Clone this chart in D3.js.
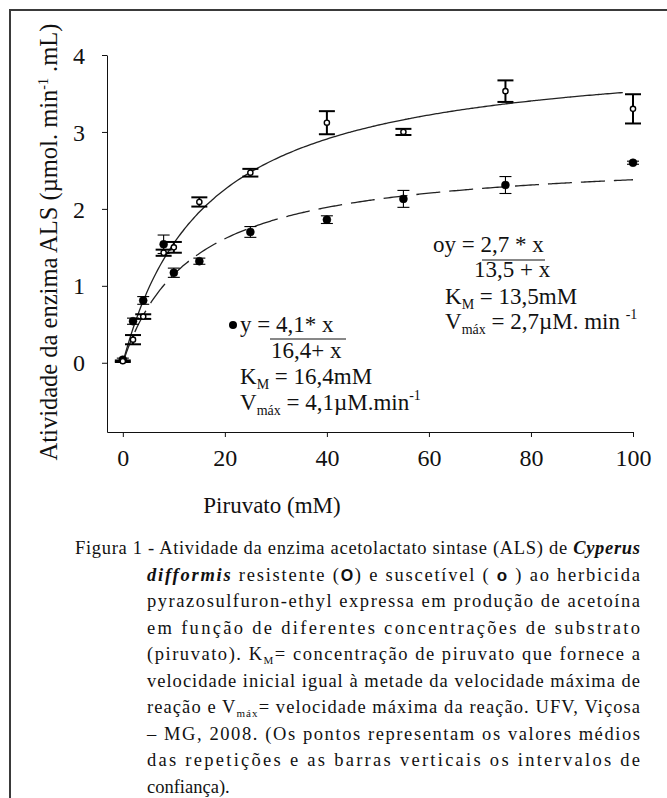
<!DOCTYPE html>
<html>
<head>
<meta charset="utf-8">
<script src="https://cdn.jsdelivr.net/npm/d3@7"></script>
<style>
  body { margin: 0; background: #fff; }
  svg text { font-family: "Liberation Serif", "Times New Roman", serif; fill: #111; }
</style>
</head>
<body>
<div id="chart"></div>
<script>
// substrate concentrations (mM)
const piruvato = [0, 2, 4, 8, 10, 15, 25, 40, 55, 75, 100];
// filled points (dashed curve)
const filledMean = [0.04, 0.54, 0.81, 1.54, 1.17, 1.32, 1.70, 1.86, 2.13, 2.31, 2.60];
const filledErr = [0.02, 0.04, 0.05, 0.12, 0.06, 0.04, 0.07, 0.05, 0.11, 0.11, 0.02];
// open points (solid curve)
const openMean = [0.02, 0.30, 0.60, 1.43, 1.50, 2.09, 2.47, 3.12, 3.00, 3.53, 3.30];
const openErr = [0.01, 0.06, 0.03, 0.04, 0.07, 0.06, 0.05, 0.15, 0.04, 0.14, 0.19];
// Michaelis-Menten fits printed on the chart [Vmax, Km]
const solidFit = [4.1, 16.4];
const dashedFit = [2.7, 13.5];
const xTicks = [0, 20, 40, 60, 80, 100];
const yTicks = [0, 1, 2, 3, 4];

const width = 667, height = 798;
const svg = d3.select("#chart").append("svg")
  .attr("width", width).attr("height", height);

// outer frame (only top and left edges visible)
svg.append("path")
  .attr("d", `M10,${height} V10 H${width}`)
  .attr("fill", "none").attr("stroke", "#3a3a3a").attr("stroke-width", 2);

const x = d3.scaleLinear().domain([-3.1, 100]).range([107, 633]);
const y = d3.scaleLinear().domain([-0.9, 4]).range([432, 55]);

const xAxis = svg.append("g")
  .attr("transform", "translate(0,432)")
  .call(d3.axisBottom(x).tickValues(xTicks).tickFormat(d3.format("d"))
    .tickSize(5).tickSizeOuter(0).tickPadding(12));
const yAxis = svg.append("g")
  .attr("transform", "translate(107,0)")
  .call(d3.axisLeft(y).tickValues(yTicks).tickFormat(d3.format("d"))
    .tickSize(5).tickSizeOuter(0).tickPadding(17));
[xAxis, yAxis].forEach(g => {
  g.attr("font-family", null).attr("font-size", null);
  g.selectAll("text").style("font-family", "Liberation Serif").style("font-size", "24px").attr("fill", "#111");
  g.selectAll("path, line").attr("stroke", "#111");
});
yAxis.selectAll("text").attr("dy", "0.34em");

// axis titles
svg.append("text")
  .attr("x", 272).attr("y", 513)
  .attr("text-anchor", "middle")
  .style("font-size", "23px")
  .text("Piruvato (mM)");

const yTitle = svg.append("text")
  .attr("transform", "translate(57,242) rotate(-90)")
  .attr("text-anchor", "middle")
  .style("font-size", "24.5px");
yTitle.append("tspan").text("Atividade da enzima ALS (µmol. min");
yTitle.append("tspan").attr("dy", -9).style("font-size", "14px").text("-1");
yTitle.append("tspan").attr("dy", 9).text(" .mL)");

// fitted curves
const mm = (fit, v) => fit[0] * v / (fit[1] + v);
const line = d3.line().x(d => x(d[0])).y(d => y(d[1])).curve(d3.curveBasis);

svg.append("path")
  .datum(d3.range(0, 98.01, 0.5).map(v => [v, mm(solidFit, v)]))
  .attr("d", line).attr("fill", "none").attr("stroke", "#222").attr("stroke-width", 1.3);
svg.append("path")
  .datum(d3.range(0, 100.01, 0.5).map(v => [v, mm(dashedFit, v)]))
  .attr("d", line).attr("fill", "none").attr("stroke", "#222").attr("stroke-width", 1.3)
  .attr("stroke-dasharray", "24,9");

// error bars + points
function drawSeries(means, errs, opts) {
  const data = piruvato.map((p, i) => ({ p, m: means[i], e: errs[i] }));
  const g = svg.append("g");
  const bars = g.selectAll(".bar").data(data).join("g")
    .attr("stroke", "#000").attr("stroke-width", opts.barWidth);
  bars.append("line")
    .attr("x1", d => x(d.p)).attr("x2", d => x(d.p))
    .attr("y1", d => y(d.m - d.e)).attr("y2", d => y(d.m + d.e));
  [-1, 1].forEach(s => {
    bars.append("line")
      .attr("x1", d => x(d.p) - opts.cap).attr("x2", d => x(d.p) + opts.cap)
      .attr("y1", d => y(d.m + s * d.e)).attr("y2", d => y(d.m + s * d.e));
  });
  g.selectAll("circle").data(data).join("circle")
    .attr("cx", d => x(d.p)).attr("cy", d => y(d.m))
    .attr("r", opts.r)
    .attr("fill", opts.fill).attr("stroke", "#000").attr("stroke-width", opts.stroke);
}
drawSeries(filledMean, filledErr, { r: 4, fill: "#000", stroke: 0.5, cap: 6, barWidth: 1.1 });
drawSeries(openMean, openErr, { r: 2.6, fill: "#fff", stroke: 1.4, cap: 8, barWidth: 2 });

// equation annotations
function eqBlock(x0, opts) {
  const g = svg.append("g").style("font-size", "23px");
  g.append("text").attr("x", x0).attr("y", opts.y[0]).text(opts.lead);
  g.append("line")
    .attr("x1", opts.bar[0]).attr("x2", opts.bar[1])
    .attr("y1", opts.barY).attr("y2", opts.barY)
    .attr("stroke", "#111").attr("stroke-width", 1);
  g.append("text").attr("x", opts.denX).attr("y", opts.y[1]).text(opts.den);
  const l3 = g.append("text").attr("x", x0 + opts.indent).attr("y", opts.y[2]);
  l3.append("tspan").text("K");
  l3.append("tspan").attr("dy", 5).style("font-size", "14px").text("M");
  l3.append("tspan").attr("dy", -5).text(opts.km);
  const l4 = g.append("text").attr("x", x0 + opts.indent).attr("y", opts.y[3]);
  l4.append("tspan").text("V");
  l4.append("tspan").attr("dy", 5).style("font-size", "14px").text("máx");
  l4.append("tspan").attr("dy", -5).text(opts.vm);
  l4.append("tspan").attr("dy", -10).style("font-size", "14px").text("-1");
  return g;
}
const eq1 = eqBlock(240, {
  y: [332, 358, 384, 410], lead: "y = 4,1* x", bar: [270, 346], barY: 339,
  denX: 271, den: "16,4+ x", indent: 0, km: " = 16,4mM", vm: " = 4,1µM.min"
});
eq1.append("circle").attr("cx", 233).attr("cy", 325).attr("r", 4).attr("fill", "#000");
eqBlock(433, {
  y: [252, 277, 304, 329], lead: "oy = 2,7 * x", bar: [482, 545], barY: 260,
  denX: 474, den: "13,5 + x", indent: 12, km: " = 13,5mM", vm: " = 2,7µM. min "
});

// caption
const capRight = 640;
const captionLines = [
  { x: 75, parts: [["Figura 1 - Atividade da enzima acetolactato sintase (ALS) de "], ["Cyperus", "bi"]] },
  { x: 147, parts: [["difformis", "bi"], [" resistente ("], ["O", "sym"], [") e suscetível ( "], ["o", "sym"], [" ) ao herbicida"]] },
  { x: 147, parts: [["pyrazosulfuron-ethyl expressa em produção de acetoína"]] },
  { x: 147, parts: [["em função de diferentes concentrações de substrato"]] },
  { x: 147, parts: [["(piruvato). K"], ["M", "sub"], ["= concentração de piruvato que fornece a"]] },
  { x: 147, parts: [["velocidade inicial igual à metade da velocidade máxima de"]] },
  { x: 147, parts: [["reação e V"], ["máx", "sub"], ["= velocidade máxima da reação. UFV, Viçosa"]] },
  { x: 147, parts: [["– MG, 2008. (Os pontos representam os valores médios"]] },
  { x: 147, parts: [["das repetições e as barras verticais os intervalos de"]] },
  { x: 147, parts: [["confiança)."]], last: true }
];
const cap = svg.append("g").style("font-size", "18.5px");
captionLines.forEach((ln, i) => {
  const t = cap.append("text").attr("x", ln.x).attr("y", 554 + i * 26.5);
  if (!ln.last) t.attr("textLength", capRight - ln.x).attr("lengthAdjust", "spacing");
  let shift = 0;
  ln.parts.forEach(([s, kind]) => {
    const ts = t.append("tspan").text(s);
    if (kind === "bi") ts.style("font-weight", "bold").style("font-style", "italic");
    if (kind === "sym") ts.style("font-family", "Liberation Sans").style("font-weight", "bold")
      .style("font-size", s === "O" ? "16px" : "17px");
    if (kind === "sub") { ts.attr("dy", 4).style("font-size", "11px"); shift = 4; }
    else if (shift) { ts.attr("dy", -shift); shift = 0; }
  });
});
</script>
</body>
</html>
